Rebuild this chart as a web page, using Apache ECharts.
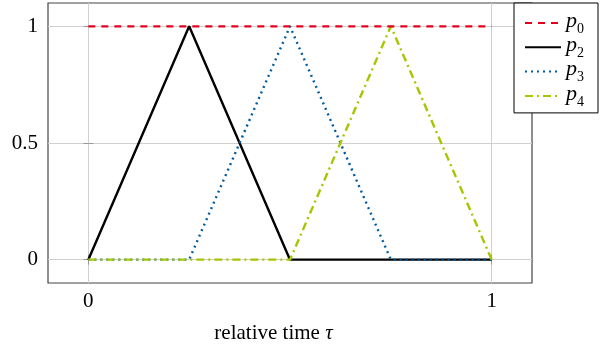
<!DOCTYPE html>
<html>
<head>
<meta charset="utf-8">
<script src="https://cdn.jsdelivr.net/npm/echarts@6/dist/echarts.min.js"></script>
<style>html,body{margin:0;padding:0;background:#fff;}#c{width:600px;height:349px;}</style>
</head>
<body>
<div id="c"></div>
<script>
const seriesNames = ['p0', 'p2', 'p3', 'p4'];
const p0 = [[0, 1], [1, 1]];
const p2 = [[0, 0], [0.25, 1], [0.5, 0], [1, 0]];
const p3 = [[0, 0], [0.25, 0], [0.5, 1], [0.75, 0], [1, 0]];
const p4 = [[0, 0], [0.5, 0], [0.75, 1], [1, 0]];
const xTicks = [0, 1];
const yTicks = [0, 0.5, 1];
const xLabel = 'relative time ';
const xLabelSym = 'τ';

const serif = 'Liberation Serif';
const chart = echarts.init(document.getElementById('c'), null, {renderer: 'canvas'});
const gridColor = '#d0d0d0';
const tickColor = '#999';
function xAxisDef(pos, show) {
  return {
    type: 'value', position: pos, min: -0.1, max: 1.1,
    axisLine: {show: false},
    axisTick: {show: true, inside: true, length: 5, customValues: xTicks, lineStyle: {color: tickColor, width: 1}},
    axisLabel: {show: show, customValues: xTicks, fontFamily: serif, fontSize: 21, color: '#000', margin: 8},
    splitLine: {show: show, lineStyle: {color: gridColor, width: 1}},
    name: show ? '{n|' + xLabel + '}{t|' + xLabelSym + '}' : '',
    nameLocation: 'middle', nameGap: 40,
    nameTextStyle: {padding: [0, 33, 0, 0], rich: {n: {fontFamily: serif, fontSize: 21, color: '#000'}, t: {fontFamily: serif, fontStyle: 'italic', fontSize: 21, color: '#000'}}}
  };
}
function yAxisDef(pos, show) {
  return {
    type: 'value', position: pos, min: -0.1, max: 1.1,
    axisLine: {show: false},
    axisTick: {show: true, inside: true, length: 5, customValues: yTicks, lineStyle: {color: tickColor, width: 1}},
    axisLabel: {show: show, customValues: yTicks, fontFamily: serif, fontSize: 21, color: '#000', margin: 10},
    splitLine: {show: show, lineStyle: {color: gridColor, width: 1}}
  };
}
const styles = {
  p0: {color: '#e3001f', type: [7, 6]},
  p2: {color: '#000000', type: 'solid'},
  p3: {color: '#005b9f', type: [2, 4]},
  p4: {color: '#a4c800', type: [8, 4, 2, 4]}
};
const dataMap = {p0: p0, p2: p2, p3: p3, p4: p4};
const option = {
  animation: false,
  grid: {left: 48, right: 68, top: 3, bottom: 64, show: true, borderColor: '#444', borderWidth: 1.2, backgroundColor: 'transparent'},
  xAxis: [xAxisDef('bottom', true), xAxisDef('top', false)],
  yAxis: [yAxisDef('left', true), yAxisDef('right', false)],
  legend: {
    orient: 'vertical', left: 514, top: 3,
    backgroundColor: '#fff', borderColor: '#000', borderWidth: 1,
    padding: [7, 14, 4, 10], itemGap: -1.7, itemWidth: 36, itemHeight: 18,
    itemStyle: {opacity: 0},
    data: seriesNames.map(n => ({name: n})),
    formatter: function (name) { return '{i|p}{s|' + name.slice(1) + '}'; },
    textStyle: {
      rich: {
        i: {fontFamily: serif, fontStyle: 'italic', fontSize: 22, color: '#000', verticalAlign: 'bottom', lineHeight: 18},
        s: {fontFamily: serif, fontSize: 14, color: '#000', verticalAlign: 'bottom', lineHeight: 12, padding: [0, 0, -4, 0]}
      }
    }
  },
  series: seriesNames.map(n => ({
    name: n, type: 'line', data: dataMap[n], symbol: 'none', z: n === 'p0' ? 3 : 2,
    lineStyle: {color: styles[n].color, width: 2.4, type: styles[n].type},
    itemStyle: {color: styles[n].color}
  }))
};
chart.setOption(option);
</script>
</body>
</html>
